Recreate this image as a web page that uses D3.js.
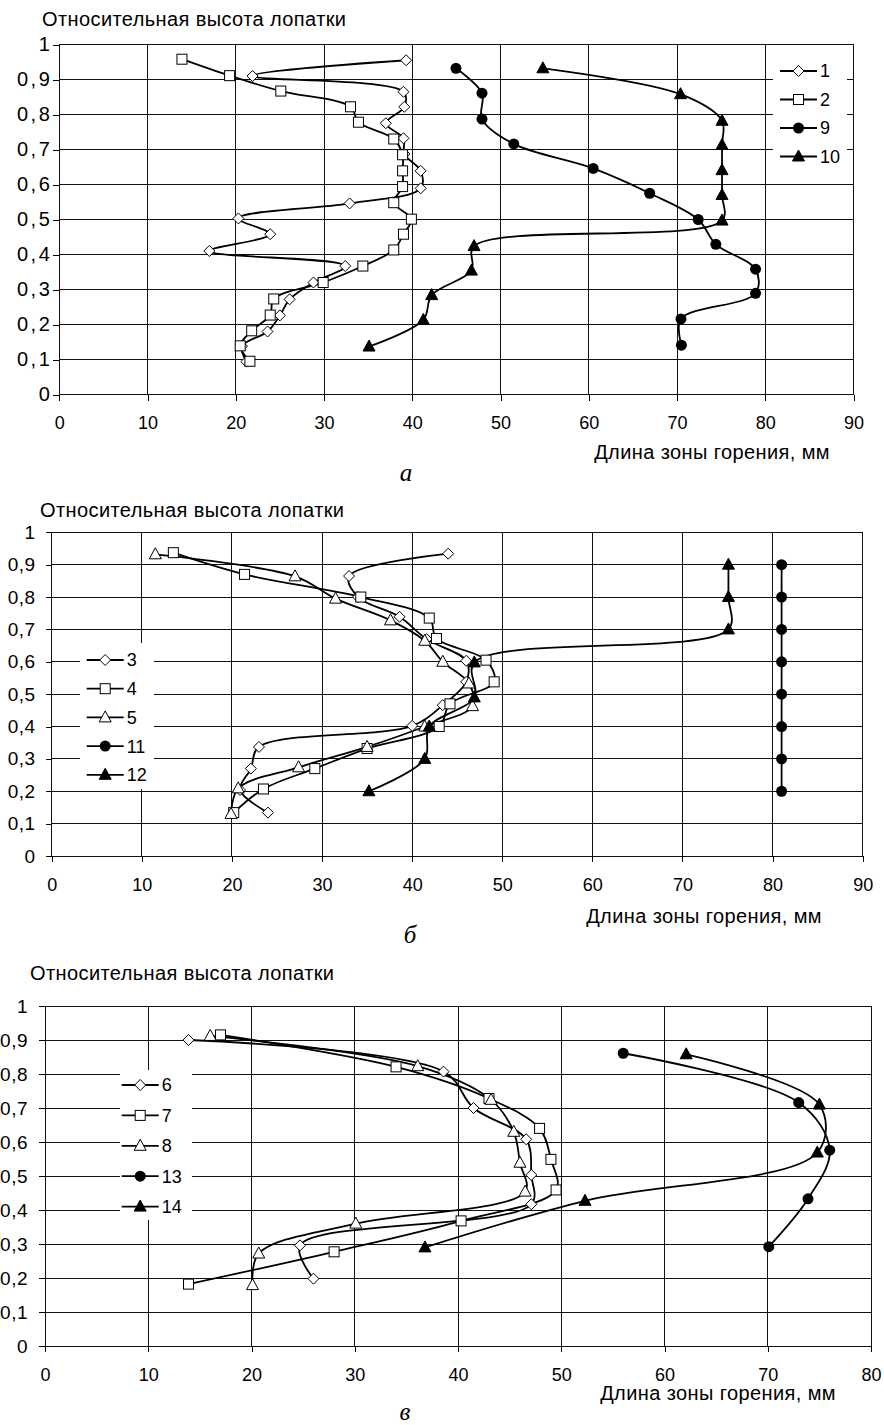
<!DOCTYPE html>
<html>
<head>
<meta charset="utf-8">
<script src="https://cdn.jsdelivr.net/npm/d3@7"></script>
<style>
  body { margin: 0; background: #fff; }
  svg text { font-family: "Liberation Sans", Arial, sans-serif; fill: #000; }
</style>
</head>
<body>
<div id="chart"></div>
<script>
// tick labels
const yTicks = [0, 0.1, 0.2, 0.3, 0.4, 0.5, 0.6, 0.7, 0.8, 0.9, 1];
const yTickLabels = ["0", "0,1", "0,2", "0,3", "0,4", "0,5", "0,6", "0,7", "0,8", "0,9", "1"];
const xTicks90 = [0, 10, 20, 30, 40, 50, 60, 70, 80, 90];
const xTicks80 = [0, 10, 20, 30, 40, 50, 60, 70, 80];

const yTitle = "Относительная высота лопатки";
const xTitle = "Длина зоны горения, мм";

// panel a: [length mm, relative height]
const series1 = [[39.3,0.955],[21.9,0.91],[39.0,0.865],[39.1,0.822],[37.0,0.775],[39.0,0.732],[39.1,0.687],[40.95,0.639],[40.95,0.589],[32.9,0.546],[20.3,0.503],[23.9,0.458],[17.0,0.41],[32.4,0.367],[28.8,0.32],[26.1,0.272],[25.0,0.226],[23.6,0.18],[20.7,0.138],[21.2,0.094]];
const series2 = [[13.9,0.958],[19.3,0.911],[25.1,0.867],[33.0,0.822],[33.9,0.778],[37.9,0.73],[38.9,0.685],[38.9,0.639],[38.9,0.594],[37.9,0.548],[39.9,0.501],[39.0,0.458],[37.9,0.413],[34.4,0.367],[29.9,0.32],[24.3,0.273],[23.9,0.227],[21.8,0.182],[20.5,0.139],[21.6,0.095]];
const series9 = [[44.95,0.932],[47.9,0.861],[47.9,0.787],[51.5,0.716],[60.5,0.646],[66.9,0.575],[72.4,0.50],[74.4,0.429],[78.9,0.358],[78.9,0.289],[70.45,0.216],[70.5,0.141]];
const series10 = [[54.8,0.932],[70.4,0.858],[75.1,0.782],[75.1,0.713],[75.1,0.641],[75.1,0.57],[75.1,0.497],[47.0,0.424],[46.7,0.354],[42.2,0.284],[41.25,0.213],[35.1,0.137]];

// panel б
const series3 = [[44.0,0.934],[33.0,0.865],[34.0,0.80],[38.6,0.739],[41.6,0.67],[46.0,0.603],[46.0,0.538],[43.4,0.466],[40.0,0.402],[23.0,0.337],[22.1,0.27],[20.9,0.204],[24.0,0.134]];
const series4 = [[13.5,0.937],[21.4,0.870],[34.3,0.80],[41.9,0.735],[42.7,0.672],[48.2,0.605],[49.1,0.538],[44.2,0.47],[43.0,0.40],[35.0,0.332],[29.2,0.27],[23.5,0.207],[20.2,0.134]];
const series5 = [[11.5,0.932],[27.0,0.864],[31.5,0.795],[37.6,0.728],[41.4,0.665],[43.4,0.60],[46.3,0.533],[46.7,0.463],[41.4,0.40],[35.0,0.337],[27.4,0.274],[20.7,0.209],[19.9,0.13]];
const series11 = [[81,0.9],[81,0.8],[81,0.7],[81,0.6],[81,0.5],[81,0.4],[81,0.3],[81,0.2]];
const series12 = [[35.2,0.2],[41.4,0.3],[41.9,0.4],[46.9,0.49],[46.9,0.598],[75.1,0.7],[75.1,0.8],[75.1,0.9]];

// panel в
const series6 = [[13.9,0.90],[38.6,0.807],[41.5,0.70],[46.6,0.608],[47.1,0.503],[47.1,0.417],[24.7,0.296],[26.0,0.198]];
const series7 = [[17.0,0.915],[34.0,0.821],[43.0,0.728],[47.9,0.64],[49.0,0.549],[49.5,0.459],[40.3,0.368],[28.0,0.277],[13.9,0.182]];
const series8 = [[16.0,0.912],[36.1,0.823],[43.2,0.724],[45.4,0.63],[46.0,0.539],[46.5,0.454],[30.1,0.36],[20.7,0.272],[20.1,0.179]];
const series13 = [[56.0,0.861],[73.0,0.716],[76.0,0.576],[73.9,0.433],[70.1,0.292]];
const series14 = [[62.1,0.858],[75.0,0.71],[74.8,0.569],[52.3,0.427],[36.8,0.29]];

const svg = d3.select("#chart").append("svg")
    .attr("width", 884)
    .attr("height", 1425);

svg.append("rect").attr("width", 884).attr("height", 1425).attr("fill", "#fff");

// marker shapes
function drawMarker(g, type, cx, cy) {
    if (type === "diamond") {
        g.append("path")
            .attr("d", `M${cx},${cy - 5.5}L${cx + 5.5},${cy}L${cx},${cy + 5.5}L${cx - 5.5},${cy}Z`)
            .attr("fill", "#fff").attr("stroke", "#000").attr("stroke-width", 1);
    } else if (type === "square") {
        g.append("rect")
            .attr("x", cx - 5).attr("y", cy - 5)
            .attr("width", 10).attr("height", 10)
            .attr("fill", "#fff").attr("stroke", "#000").attr("stroke-width", 1);
    } else if (type === "triangle" || type === "triangleFilled") {
        g.append("path")
            .attr("d", `M${cx},${cy - 6.5}L${cx + 6},${cy + 4.5}L${cx - 6},${cy + 4.5}Z`)
            .attr("fill", type === "triangle" ? "#fff" : "#000")
            .attr("stroke", "#000").attr("stroke-width", 1);
    } else if (type === "circle") {
        g.append("circle")
            .attr("cx", cx).attr("cy", cy).attr("r", 5.5)
            .attr("fill", "#000");
    }
}

function drawPanel(cfg) {
    const x = d3.scaleLinear().domain([0, cfg.xMax]).range([cfg.left, cfg.right]);
    const y = d3.scaleLinear().domain([0, 1]).range([cfg.bottom, cfg.top]);
    const g = svg.append("g");

    // grid
    g.selectAll(".hgrid")
        .data(yTicks)
        .enter()
        .append("line")
        .attr("x1", cfg.left).attr("x2", cfg.right)
        .attr("y1", d => y(d)).attr("y2", d => y(d))
        .attr("stroke", "#111").attr("stroke-width", 1)
        .attr("shape-rendering", "crispEdges");
    g.selectAll(".vgrid")
        .data(cfg.xTicks)
        .enter()
        .append("line")
        .attr("x1", d => x(d)).attr("x2", d => x(d))
        .attr("y1", cfg.top).attr("y2", cfg.bottom)
        .attr("stroke", "#111").attr("stroke-width", 1)
        .attr("shape-rendering", "crispEdges");

    // axes
    const xAxis = d3.axisBottom(x).tickValues(cfg.xTicks).tickSize(6).tickPadding(16);
    const yAxis = d3.axisLeft(y).tickValues(yTicks).tickSize(6).tickPadding(cfg.yPad)
        .tickFormat((d, i) => yTickLabels[i]);
    const gx = g.append("g")
        .attr("transform", `translate(0,${cfg.bottom})`)
        .call(xAxis);
    const gy = g.append("g")
        .attr("transform", `translate(${cfg.left},0)`)
        .call(yAxis);
    [gx, gy].forEach(a => {
        a.selectAll(".tick line").attr("stroke", "#000").attr("shape-rendering", "crispEdges");
        a.selectAll(".tick text")
            .style("font-family", "'Liberation Sans', Arial, sans-serif")
            .attr("fill", "#000");
    });
    gx.selectAll(".tick text").attr("font-size", 18);
    gy.selectAll(".tick text").attr("font-size", cfg.yFont)
        .style("letter-spacing", cfg.ySpacing + "px");
    gx.select(".domain").remove();
    gy.select(".domain").remove();

    // series
    const line = d3.line()
        .x(d => x(d[0]))
        .y(d => y(d[1]))
        .curve(d3.curveCatmullRom.alpha(0.5));

    cfg.series.forEach(s => {
        g.append("path")
            .datum(s.data)
            .attr("d", line)
            .attr("fill", "none")
            .attr("stroke", "#000")
            .attr("stroke-width", 1.8);
    });
    cfg.series.forEach(s => {
        s.data.forEach(d => drawMarker(g, s.marker, x(d[0]), y(d[1])));
    });

    // legend
    const lg = g.append("g");
    lg.append("rect")
        .attr("x", cfg.legend.x).attr("y", cfg.legend.y)
        .attr("width", cfg.legend.w).attr("height", cfg.legend.h)
        .attr("fill", "#fff");
    cfg.series.forEach((s, i) => {
        const ly = cfg.legend.rowY + i * cfg.legend.step;
        const lx = cfg.legend.lineX;
        lg.append("line")
            .attr("x1", lx).attr("x2", lx + 37)
            .attr("y1", ly).attr("y2", ly)
            .attr("stroke", "#000").attr("stroke-width", 1.8);
        drawMarker(lg, s.marker, lx + 18.5, ly);
        lg.append("text")
            .attr("x", lx + 40).attr("y", ly)
            .attr("dy", "0.36em")
            .attr("font-size", 18)
            .text(s.name);
    });

    // titles
    g.append("text")
        .attr("x", cfg.yTitleX).attr("y", cfg.yTitleY)
        .attr("font-size", 20)
        .style("letter-spacing", "0.4px")
        .text(yTitle);
    g.append("text")
        .attr("x", cfg.xTitleX).attr("y", cfg.xTitleY)
        .attr("text-anchor", "end")
        .attr("font-size", 20)
        .style("letter-spacing", "0.4px")
        .text(xTitle);
    g.append("text")
        .attr("x", cfg.capX).attr("y", cfg.capY)
        .attr("text-anchor", "middle")
        .attr("font-size", 25)
        .style("font-family", "'Liberation Serif', 'Times New Roman', serif")
        .style("font-style", "italic")
        .text(cfg.caption);
}

drawPanel({
    left: 59.3, right: 853.5, top: 44.5, bottom: 394.5, xMax: 90, xTicks: xTicks90,
    yPad: 1, yFont: 20, ySpacing: 2.5,
    series: [
        { name: "1", marker: "diamond", data: series1 },
        { name: "2", marker: "square", data: series2 },
        { name: "9", marker: "circle", data: series9 },
        { name: "10", marker: "triangleFilled", data: series10 }
    ],
    legend: { x: 773, y: 58, w: 74, h: 112, lineX: 780, rowY: 71, step: 28.5 },
    yTitleX: 42, yTitleY: 26, xTitleX: 830, xTitleY: 459, capX: 406, capY: 481, caption: "а"
});

drawPanel({
    left: 51.7, right: 862.7, top: 532.3, bottom: 856, xMax: 90, xTicks: xTicks90,
    yPad: 10, yFont: 19, ySpacing: 0.5,
    series: [
        { name: "3", marker: "diamond", data: series3 },
        { name: "4", marker: "square", data: series4 },
        { name: "5", marker: "triangle", data: series5 },
        { name: "11", marker: "circle", data: series11 },
        { name: "12", marker: "triangleFilled", data: series12 }
    ],
    legend: { x: 80, y: 643, w: 74, h: 146, lineX: 86.7, rowY: 660, step: 28.7 },
    yTitleX: 40, yTitleY: 517, xTitleX: 822, xTitleY: 923, capX: 410, capY: 943, caption: "б"
});

drawPanel({
    left: 45, right: 871, top: 1006, bottom: 1346, xMax: 80, xTicks: xTicks80,
    yPad: 11, yFont: 19, ySpacing: 0.5,
    series: [
        { name: "6", marker: "diamond", data: series6 },
        { name: "7", marker: "square", data: series7 },
        { name: "8", marker: "triangle", data: series8 },
        { name: "13", marker: "circle", data: series13 },
        { name: "14", marker: "triangleFilled", data: series14 }
    ],
    legend: { x: 120, y: 1070, w: 72, h: 150, lineX: 121.7, rowY: 1085, step: 30.4 },
    yTitleX: 30, yTitleY: 980, xTitleX: 836, xTitleY: 1400, capX: 405, capY: 1420, caption: "в"
});
</script>
</body>
</html>
